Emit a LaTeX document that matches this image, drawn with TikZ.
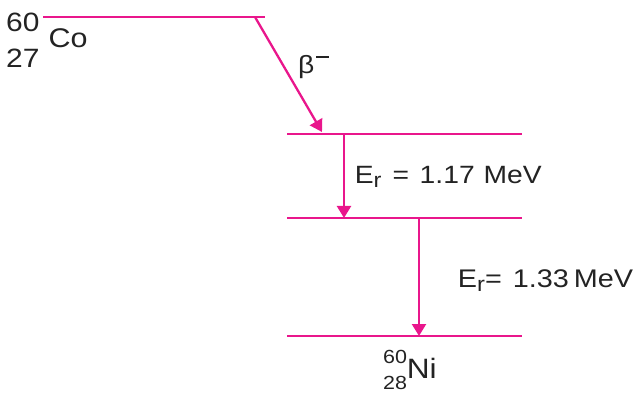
\documentclass[tikz,border=0pt]{standalone}
\usepackage{fontspec}
\setmainfont{Liberation Sans}[FakeStretch=1.13]
\usetikzlibrary{arrows.meta}
\definecolor{levelpink}{RGB}{233,22,140}
\definecolor{labelgrey}{RGB}{35,35,35}
% lowered index letter used in the transition labels
\newcommand{\lowidx}[1]{\raisebox{-5pt}{\fontsize{21}{21}\selectfont #1}}
\begin{document}
\begin{tikzpicture}[x=1pt,y=-1pt,
  level/.style={levelpink,line width=2.5pt},
  decay/.style={levelpink,line width=2.3pt,-{Triangle[length=12pt,width=14pt]}},
  lbl/.style={labelgrey,inner sep=0pt,anchor=base west}]
\useasboundingbox (0,0) rectangle (635,393);

% energy levels
\coordinate (co-l) at (43,17);   \coordinate (co-r) at (265,17);
\coordinate (e1-l) at (287,134); \coordinate (e1-r) at (522,134);
\coordinate (e2-l) at (287,218); \coordinate (e2-r) at (522,218);
\coordinate (ni-l) at (287,336); \coordinate (ni-r) at (522,336);
\draw[level] (co-l) -- (co-r);
\draw[level] (e1-l) -- (e1-r);
\draw[level] (e2-l) -- (e2-r);
\draw[level] (ni-l) -- (ni-r);

% transitions
\coordinate (beta-s) at (255,17);  \coordinate (beta-e) at (322,132);
\coordinate (g1-s) at (344,134);   \coordinate (g1-e) at (344,218);
\coordinate (g2-s) at (419,218);   \coordinate (g2-e) at (419,336);
\draw[decay] (beta-s) -- (beta-e);
\draw[decay] (g1-s) -- (g1-e);
\draw[decay] (g2-s) -- (g2-e);

% parent nucleus
\node[lbl,font=\fontsize{26.5}{26.5}\selectfont] (co-a) at (6,32) {60};
\node[lbl,font=\fontsize{26.5}{26.5}\selectfont] (co-z) at (6,68) {27};
\node[lbl,font=\fontsize{27}{27}\selectfont] (co-sym) at (48.5,48) {Co};

% beta label
\node[lbl,font=\fontsize{25}{25}\selectfont] (beta) at (298,74)
  {β\hspace{2pt}\raisebox{16pt}{\rule{13pt}{2pt}}};

% gamma labels
\node[lbl,font=\fontsize{25}{25}\selectfont] (g1) at (354.7,183)
  {E\lowidx{r}\hspace{11pt}=\hspace{10.6pt}1.17\hspace{9pt}MeV};
\node[lbl,font=\fontsize{25.5}{25.5}\selectfont] (g2) at (457.7,287)
  {E\lowidx{r}=\hspace{11pt}1.33\hspace{5pt}MeV};

% daughter nucleus
\node[lbl,font=\fontsize{19}{19}\selectfont] (ni-a) at (383,363) {60};
\node[lbl,font=\fontsize{19}{19}\selectfont] (ni-z) at (383,389) {28};
\node[lbl,font=\fontsize{28}{28}\selectfont] (ni-sym) at (406.6,378) {Ni};
\end{tikzpicture}
\end{document}
